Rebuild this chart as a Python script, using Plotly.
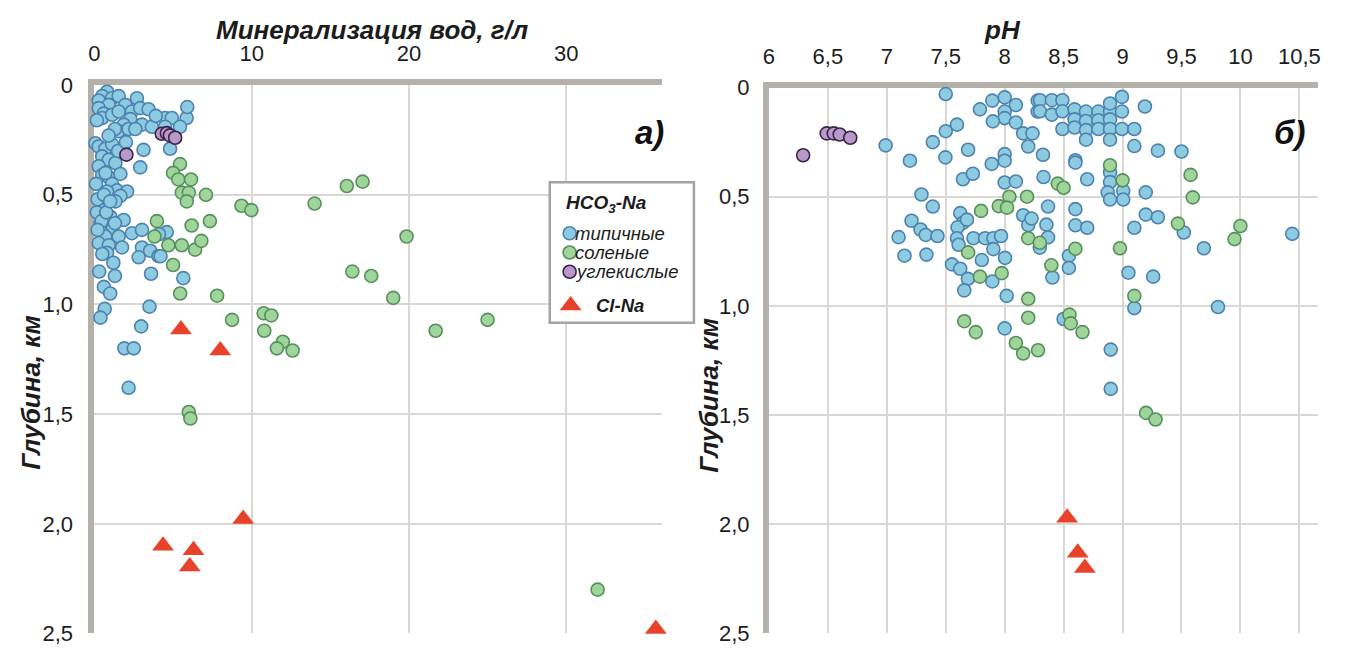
import plotly.graph_objects as go

# ---------------- data: left panel (mineralization, g/L vs depth, km) ----------------
typ_min = [0.80, 0.49, 0.27, 1.12, 1.54, 2.70, 1.96, 0.91, 0.27, 0.59, 0.49, 1.12, 1.54, 2.38, 2.91,
           3.44, 2.28, 1.86, 1.54, 2.17, 3.02, 3.65, 4.49, 4.92, 5.86, 5.44, 4.49, 4.81, 3.12, 2.91,
           0.06, 0.27, 0.69, 1.12, 0.49, 0.91, 1.33, 0.27, 0.49, 0.91, 1.65, 1.12, 1.43, 2.07, 0.80,
           1.65, 1.33, 0.59, 1.01, 1.86, 0.38, 1.12, 0.49, 0.69, 1.54, 2.38, 3.02, 4.60, 0.27, 0.91,
           1.75, 3.02, 3.54, 0.80, 4.07, 2.81, 1.20, 1.30, 0.60, 1.00, 0.65, 0.38, 3.50, 2.97, 1.90,
           2.50, 2.17, 3.60, 5.65, 4.20,
           0.15, 0.10, 0.20, 0.15, 0.45, 0.20, 0.50, 0.30, 0.60, 0.75, 1.30, 0.70, 1.00, 1.50, 2.00,
           2.60, 1.30, 0.90, 3.90, 5.90, 4.10]
typ_dep = [0.03, 0.05, 0.07, 0.06, 0.05, 0.06, 0.09, 0.09, 0.105, 0.13, 0.15, 0.135, 0.12, 0.12, 0.105,
           0.11, 0.155, 0.18, 0.21, 0.20, 0.18, 0.19, 0.15, 0.15, 0.15, 0.19, 0.19, 0.29, 0.295, 0.375,
           0.265, 0.28, 0.29, 0.27, 0.325, 0.34, 0.355, 0.37, 0.41, 0.42, 0.405, 0.45, 0.48, 0.485, 0.485,
           0.505, 0.53, 0.57, 0.60, 0.615, 0.63, 0.66, 0.675, 0.69, 0.69, 0.675, 0.66, 0.67, 0.72, 0.73,
           0.74, 0.74, 0.755, 0.765, 0.78, 0.785, 0.81, 0.87, 0.92, 0.95, 1.02, 1.06, 1.01, 1.10, 1.20,
           1.20, 1.38, 0.86, 0.88, 0.78,
           0.16, 0.45, 0.52, 0.58, 0.62, 0.66, 0.77, 0.85, 0.50, 0.58, 0.63, 0.40, 0.53, 0.30, 0.26,
           0.20, 0.20, 0.23, 0.14, 0.10, 0.68]

sal_min = [5.44, 5.00, 5.33, 6.14, 5.55, 6.00, 5.87, 7.09, 3.97, 6.18, 7.34, 3.82, 4.70, 5.55, 6.40,
           6.80, 5.00, 5.45, 7.80, 8.75, 9.35, 9.98, 14.0, 16.05, 17.05, 19.85, 16.4, 17.6, 19.0, 10.76,
           11.25, 10.8, 21.7, 11.98, 11.6, 12.6, 25.0, 6.00, 6.10, 32.0]
sal_dep = [0.36, 0.40, 0.43, 0.43, 0.49, 0.49, 0.53, 0.50, 0.62, 0.64, 0.62, 0.69, 0.73, 0.73, 0.75,
           0.71, 0.82, 0.95, 0.96, 1.07, 0.55, 0.57, 0.54, 0.46, 0.44, 0.69, 0.85, 0.87, 0.97, 1.04,
           1.05, 1.12, 1.12, 1.17, 1.20, 1.21, 1.07, 1.49, 1.52, 2.30]

co2_min = [4.28, 4.60, 4.80, 5.13, 2.03]
co2_dep = [0.222, 0.219, 0.229, 0.24, 0.317]

cl_min = [5.5, 8.0, 9.46, 4.36, 6.3, 6.06, 35.7]
cl_dep = [1.114, 1.21, 1.978, 2.10, 2.12, 2.195, 2.48]

# ---------------- data: right panel (pH vs depth, km) ----------------
typ_ph = [7.50, 7.79, 7.895, 8.00, 8.095, 8.00, 8.00, 7.90, 8.095, 7.595, 7.50, 8.157, 8.236, 8.20, 7.39,
          6.99, 7.196, 7.497, 7.69, 7.89, 8.00, 8.00, 7.646, 7.73, 8.00, 8.095, 7.294, 7.39, 7.21, 7.286,
          7.33, 7.43, 7.10, 7.15, 7.336, 7.623, 7.646, 7.60, 7.68, 7.595, 7.735, 7.834, 7.904, 7.969, 7.609,
          7.904, 8.003, 7.806, 7.553, 7.623, 8.157, 8.20, 8.228, 8.28, 8.28,
          8.30, 8.40, 8.49, 8.30, 8.40, 8.49, 8.593, 8.69, 8.795, 8.894, 8.995, 8.894, 8.995, 8.593, 8.69,
          8.795, 8.894, 8.49, 8.593, 8.69, 8.795, 8.894, 8.995, 9.10, 8.69, 8.894, 9.19, 9.10, 9.30, 9.50,
          8.325, 8.60, 8.60, 8.33, 8.70, 8.894, 8.894, 8.874, 8.894, 9.006, 9.006, 9.197, 8.354, 8.368, 8.60,
          8.60, 8.70, 9.10, 9.197, 9.30, 9.52, 9.69, 8.368, 8.298, 8.545, 8.545, 8.405, 9.05, 9.26, 9.10,
          9.81, 7.688, 7.657, 7.895, 8.017, 8.00, 8.90, 8.90, 10.44, 8.50]
typ_ph_dep = [0.03, 0.10, 0.06, 0.045, 0.08, 0.11, 0.14, 0.155, 0.16, 0.17, 0.20, 0.21, 0.21, 0.27, 0.25,
              0.265, 0.335, 0.32, 0.285, 0.35, 0.305, 0.335, 0.42, 0.395, 0.435, 0.43, 0.49, 0.545, 0.61, 0.65,
              0.675, 0.68, 0.685, 0.77, 0.765, 0.575, 0.62, 0.64, 0.605, 0.69, 0.69, 0.69, 0.69, 0.68, 0.72,
              0.74, 0.78, 0.79, 0.81, 0.83, 0.585, 0.63, 0.60, 0.06, 0.11,
              0.058, 0.058, 0.058, 0.109, 0.124, 0.109, 0.10, 0.11, 0.11, 0.11, 0.11, 0.073, 0.043, 0.146, 0.153,
              0.15, 0.146, 0.19, 0.183, 0.195, 0.19, 0.19, 0.19, 0.19, 0.239, 0.239, 0.087, 0.268, 0.289, 0.293,
              0.308, 0.333, 0.344, 0.41, 0.42, 0.389, 0.433, 0.48, 0.513, 0.473, 0.513, 0.48, 0.628, 0.545, 0.557,
              0.631, 0.642, 0.642, 0.582, 0.594, 0.664, 0.736, 0.686, 0.733, 0.77, 0.826, 0.87, 0.848, 0.866, 1.01,
              1.005, 0.876, 0.929, 0.888, 0.954, 1.103, 1.20, 1.38, 0.67, 1.06]

sal_ph = [7.80, 8.04, 7.95, 8.02, 8.19, 8.20, 7.69, 7.79, 7.975, 8.894, 9.00, 8.45, 8.50, 9.577, 9.596,
          9.47, 10.0, 9.95, 8.298, 8.60, 8.978, 8.396, 8.20, 9.10, 8.20, 7.657, 7.755, 8.095, 8.157, 8.283,
          8.55, 8.56, 8.66, 9.20, 9.28]
sal_ph_dep = [0.565, 0.50, 0.543, 0.55, 0.50, 0.69, 0.755, 0.866, 0.85, 0.356, 0.425, 0.44, 0.459, 0.40, 0.503,
              0.623, 0.634, 0.694, 0.711, 0.738, 0.736, 0.814, 0.968, 0.954, 1.054, 1.07, 1.12, 1.17, 1.218, 1.203,
              1.04, 1.08, 1.12, 1.49, 1.52]

co2_ph = [6.29, 6.49, 6.55, 6.60, 6.69]
co2_ph_dep = [0.31, 0.21, 0.21, 0.215, 0.23]

cl_ph = [8.53, 8.62, 8.68]
cl_ph_dep = [1.97, 2.13, 2.20]

# ---------------- tick labels ----------------
depth_ticks = [0, 0.5, 1.0, 1.5, 2.0, 2.5]
depth_text = ["0", "0,5", "1,0", "1,5", "2,0", "2,5"]
min_ticks = [0, 10, 20, 30]
ph_ticks = [6, 6.5, 7, 7.5, 8, 8.5, 9, 9.5, 10, 10.5]
ph_text = ["6", "6,5", "7", "7,5", "8", "8,5", "9", "9,5", "10", "10,5"]

# ---------------- legend content ----------------
legend_title = "<b><i>HCO<sub>3</sub>-Na</i></b>"
legend_labels = ["<i>типичные</i>", "<i>соленые</i>", "<i>углекислые</i>", "<b><i>Cl-Na</i></b>"]

# ---------------- styles ----------------
W, H = 1351, 659
FONT = "Liberation Sans, Arial, sans-serif"
AXIS_GREY = "#b4b1ab"
GRID_GREY = "#d9d7d4"
TEXT = "#1c1c1c"

BLUE = dict(color="#8ccbe0", line=dict(color="#4d82b0", width=1.6))
GREEN = dict(color="#9fd49b", line=dict(color="#55905c", width=1.6))
PURPLE = dict(color="#b89ac9", line=dict(color="#3d2149", width=1.6))
RED = "#e8432a"
MS = 13
TRI = 19

fig = go.Figure()


def circles(x, y, style, name, xa, ya):
    fig.add_trace(go.Scatter(
        x=x, y=y, mode="markers", name=name, xaxis=xa, yaxis=ya,
        showlegend=False, cliponaxis=False,
        marker=dict(symbol="circle", size=MS, color=style["color"], line=style["line"]),
        hoverinfo="x+y"))


def triangles(x, y, name, xa, ya):
    fig.add_trace(go.Scatter(
        x=x, y=y, mode="markers", name=name, xaxis=xa, yaxis=ya,
        showlegend=False, cliponaxis=False,
        marker=dict(symbol="triangle-up", size=TRI, color=RED, line=dict(width=0)),
        hoverinfo="x+y"))


# left panel
circles(typ_min, typ_dep, BLUE, "типичные", "x", "y")
circles(sal_min, sal_dep, GREEN, "соленые", "x", "y")
circles(co2_min, co2_dep, PURPLE, "углекислые", "x", "y")
triangles(cl_min, cl_dep, "Cl-Na", "x", "y")

# right panel
circles(typ_ph, typ_ph_dep, BLUE, "типичные", "x2", "y2")
circles(sal_ph, sal_ph_dep, GREEN, "соленые", "x2", "y2")
circles(co2_ph, co2_ph_dep, PURPLE, "углекислые", "x2", "y2")
triangles(cl_ph, cl_ph_dep, "Cl-Na", "x2", "y2")


def px_x(p):
    return p / W


def px_y(p):
    return 1 - p / H


# ---------------- legend box: its own pixel-scaled overlay axes ----------------
LX0, LX1, LY0, LY1 = 547, 692, 177, 323
sym_x = 567
row_y = [230, 250, 270, 305]
fig.add_shape(type="rect", xref="x3", yref="y3", x0=LX0, x1=LX1, y0=LY0, y1=LY1,
              line=dict(color="#a3a3a3", width=2.5), fillcolor="white", layer="below")
for i, style in enumerate([BLUE, GREEN, PURPLE]):
    fig.add_trace(go.Scatter(
        x=[sym_x], y=[row_y[i]], mode="markers", xaxis="x3", yaxis="y3",
        showlegend=False, cliponaxis=False, hoverinfo="skip",
        marker=dict(symbol="circle", size=MS, color=style["color"], line=style["line"])))
fig.add_trace(go.Scatter(
    x=[sym_x + 1], y=[row_y[3]], mode="markers", xaxis="x3", yaxis="y3",
    showlegend=False, cliponaxis=False, hoverinfo="skip",
    marker=dict(symbol="triangle-up", size=TRI, color=RED, line=dict(width=0))))

leg_font = dict(family=FONT, size=18.5, color=TEXT)
fig.add_annotation(xref="x3", yref="y3", x=561, y=200, text=legend_title, showarrow=False,
                   xanchor="left", yanchor="middle", font=dict(leg_font, size=19))
for i, lab in enumerate(legend_labels):
    x0 = 571 if i < 3 else 593
    fig.add_annotation(xref="x3", yref="y3", x=x0, y=row_y[i], text=lab, showarrow=False,
                       xanchor="left", yanchor="middle", font=leg_font, borderpad=0)

axis_common = dict(
    showline=True, linecolor=AXIS_GREY, linewidth=6, mirror=False,
    showgrid=True, gridcolor=GRID_GREY, gridwidth=1.5,
    zeroline=False, ticks="", layer="below traces",
    tickfont=dict(family=FONT, size=22, color=TEXT),
    fixedrange=True,
)
hidden = dict(visible=False, showgrid=False, zeroline=False, fixedrange=True)

fig.update_layout(
    width=W, height=H,
    margin=dict(l=0, r=0, t=0, b=0),
    paper_bgcolor="white", plot_bgcolor="rgba(0,0,0,0)",
    font=dict(family=FONT, color=TEXT),
    showlegend=False,
    xaxis=dict(axis_common, domain=[px_x(89), px_x(660)], range=[0, 36.1], side="top",
               tickvals=min_ticks, ticktext=[str(v) for v in min_ticks], anchor="y",
               ticklabelstandoff=9),
    yaxis=dict(axis_common, domain=[px_y(646), px_y(76)], range=[2.5, 0],
               tickvals=depth_ticks, ticktext=depth_text, anchor="x",
               ticklabelstandoff=11),
    xaxis2=dict(axis_common, domain=[px_x(767.5), px_x(1320)], range=[6, 10.66], side="top",
                tickvals=ph_ticks, ticktext=ph_text, anchor="y2",
                ticklabelstandoff=9),
    yaxis2=dict(axis_common, domain=[px_y(646), px_y(78.5)], range=[2.5, 0],
                tickvals=depth_ticks, ticktext=depth_text, anchor="x2",
                ticklabelstandoff=9),
    xaxis3=dict(hidden, domain=[0, 1], range=[0, W], anchor="y3"),
    yaxis3=dict(hidden, domain=[0, 1], range=[H, 0], anchor="x3"),
)

title_font = dict(family=FONT, size=26, color=TEXT)
annotations = [
    dict(text="<b><i>Минерализация вод, г/л</i></b>", x=px_x(368), y=px_y(19)),
    dict(text="<b><i>pH</i></b>", x=px_x(1002), y=px_y(19)),
    dict(text="<b><i>Глубина, км</i></b>", x=px_x(25), y=px_y(395), textangle=-90),
    dict(text="<b><i>Глубина, км</i></b>", x=px_x(707), y=px_y(398), textangle=-90),
]
for a in annotations:
    fig.add_annotation(xref="paper", yref="paper", showarrow=False, borderpad=0,
                       xanchor="center", yanchor="middle", font=title_font, **a)

panel_font = dict(family=FONT, size=33, color="#111111")
fig.add_annotation(xref="paper", yref="paper", showarrow=False, x=px_x(647), y=px_y(125),
                   xanchor="center", yanchor="middle", text="<b><i>а)</i></b>", font=panel_font)
fig.add_annotation(xref="paper", yref="paper", showarrow=False, x=px_x(1291), y=px_y(125),
                   xanchor="center", yanchor="middle", text="<b><i>б)</i></b>", font=panel_font)

fig.write_html("out.html")
